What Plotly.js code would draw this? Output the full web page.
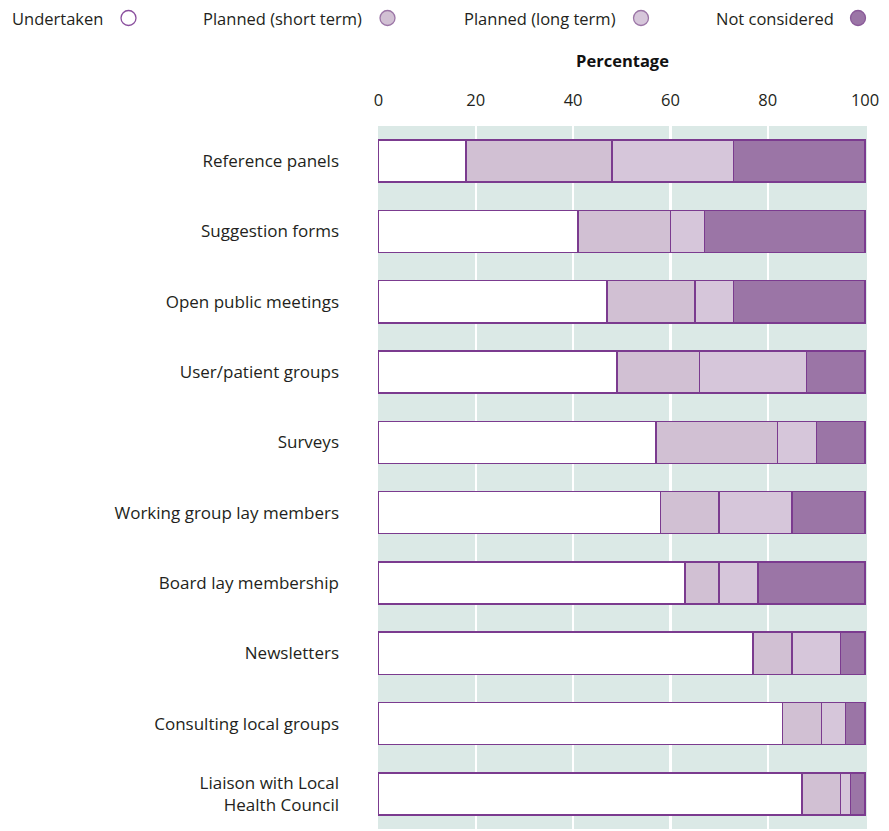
<!DOCTYPE html>
<html>
<head>
<meta charset="utf-8">
<script src="https://cdn.plot.ly/plotly-3.0.1.min.js"></script>
<style>html,body{margin:0;padding:0;background:#fff;}#chart{width:889px;height:831px;}</style>
</head>
<body>
<div id="chart"></div>
<script>
const categories = [
  "Reference panels",
  "Suggestion forms",
  "Open public meetings",
  "User/patient groups",
  "Surveys",
  "Working group lay members",
  "Board lay membership",
  "Newsletters",
  "Consulting local groups",
  "Liaison with Local<br>Health Council"
];
const seriesNames = ["Undertaken", "Planned (short term)", "Planned (long term)", "Not considered"];
const undertaken   = [18, 41, 47, 49, 57, 58, 63, 77, 83, 87];
const plannedShort = [30, 19, 18, 17, 25, 12,  7,  8,  8,  8];
const plannedLong  = [25,  7,  8, 22,  8, 15,  8, 10,  5,  2];
const notConsidered= [27, 33, 27, 12, 10, 15, 22,  5,  4,  3];
const tickValues = [0, 20, 40, 60, 80, 100];
const gridValues = [20, 40, 60, 80];

const fills = ["#ffffff", "#d1c0d3", "#d6c6da", "#9b75a6"];
const edge = "#7b3b8f";
const values = [undertaken, plannedShort, plannedLong, notConsidered];

const traces = values.map((v, i) => ({
  type: "bar",
  orientation: "h",
  name: seriesNames[i],
  x: v,
  y: categories,
  marker: {color: fills[i], line: {color: edge, width: 1.5}},
  showlegend: false,
  hoverinfo: "x+y+name"
}));
// overlay axis carrying the interior grid lines
traces.push({type: "scatter", x: [], y: [], xaxis: "x2", yaxis: "y", showlegend: false, hoverinfo: "skip"});

// custom legend: text followed by a circle
const L = 378, W = 489, T = 126, H = 703;
const legendRight = [105, 364, 618, 836];
const legendCircle = [128.5, 387.5, 641, 858];
const legendY = 18;
const legendFill = ["#ffffff", "#d1c0d3", "#d6c6da", "#9b75a6"];
const legendLine = ["#8a4f9e", "#9b75a6", "#9b75a6", "#8a5a99"];
const py = v => (T + H - v) / H;
const px = v => (v - L) / W;

const FS = 16.5;
const annotations = seriesNames.map((n, i) => ({
  xref: "paper", yref: "paper",
  x: px(legendRight[i]), y: py(legendY),
  xanchor: "right", yanchor: "middle",
  text: n, showarrow: false,
  font: {family: "Open Sans, sans-serif", size: FS, color: "#231f20"}
}));
const shapes = seriesNames.map((n, i) => ({
  type: "circle",
  xref: "paper", yref: "paper",
  xsizemode: "pixel", ysizemode: "pixel",
  xanchor: px(legendCircle[i]), yanchor: py(legendY),
  x0: -7.5, x1: 7.5, y0: -7.5, y1: 7.5,
  fillcolor: legendFill[i],
  line: {color: legendLine[i], width: 1.3}
}));

const layout = {
  width: 889, height: 831,
  margin: {l: L, r: 889 - L - W, t: T, b: 831 - T - H, pad: 0},
  paper_bgcolor: "#ffffff",
  plot_bgcolor: "#dbe9e6",
  barmode: "stack",
  bargap: 0.4,
  font: {family: "Open Sans, sans-serif", size: FS, color: "#231f20"},
  xaxis: {
    side: "top",
    range: [-0.1, 100.4],
    tickvals: tickValues,
    ticktext: tickValues.map(String),
    showgrid: false, zeroline: false, showline: false,
    ticks: "", ticklabelstandoff: 16,
    tickfont: {size: FS, color: "#231f20"},
    title: {text: "<b>Percentage</b>", standoff: 15, font: {size: 16.5, color: "#111"}},
    fixedrange: true
  },
  xaxis2: {
    overlaying: "x", matches: "x", side: "bottom",
    range: [-0.1, 100.4],
    tickvals: gridValues,
    showticklabels: false, ticks: "",
    showgrid: true, gridcolor: "#ffffff", gridwidth: 2.2,
    zeroline: false, showline: false, fixedrange: true
  },
  yaxis: {
    autorange: "reversed",
    showgrid: false, zeroline: false, showline: false,
    ticks: "", ticklabelstandoff: 38,
    tickfont: {size: 17, color: "#231f20"},
    fixedrange: true
  },
  annotations: annotations,
  shapes: shapes
};

Plotly.newPlot("chart", traces, layout, {displayModeBar: false, staticPlot: true});
</script>
</body>
</html>
